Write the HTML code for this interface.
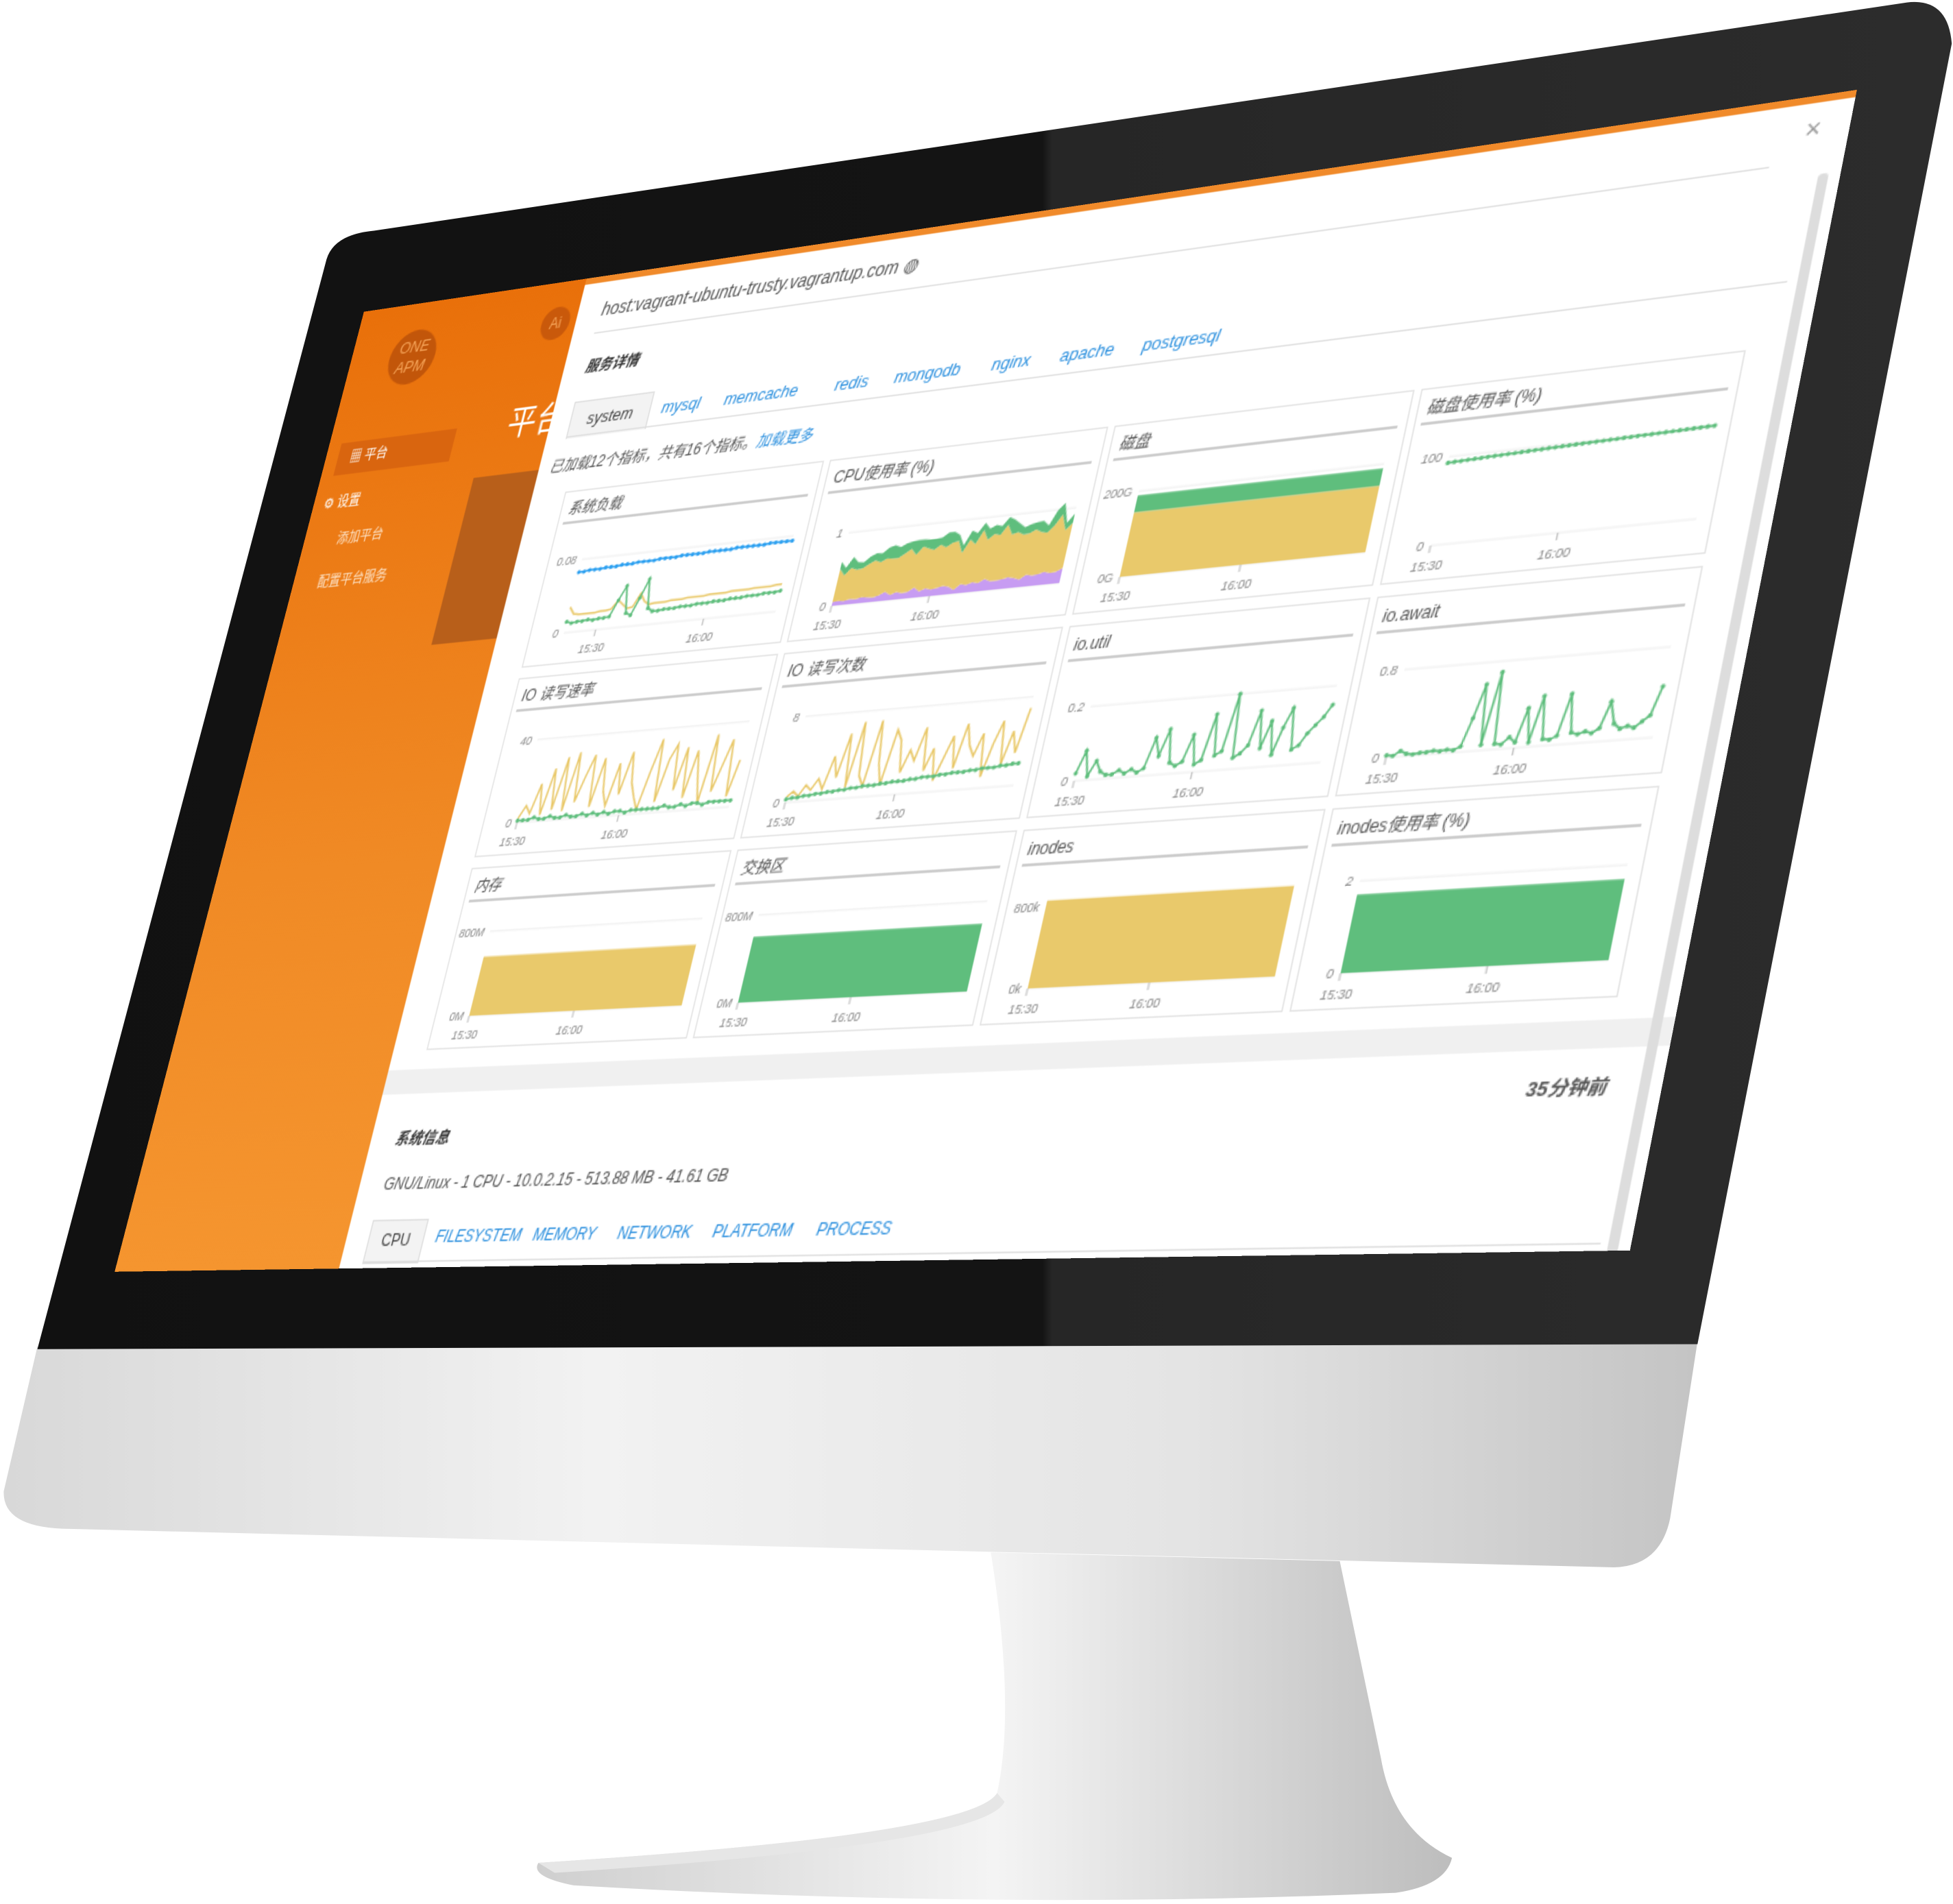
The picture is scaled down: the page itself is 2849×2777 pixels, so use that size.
<!DOCTYPE html>
<html><head><meta charset="utf-8">
<style>
html,body{margin:0;padding:0;background:#fff;overflow:hidden}
#page{width:2849px;height:2777px;position:relative;overflow:hidden;background:#fff}
#stage{position:absolute;left:0;top:0;width:1567px;height:1527px;transform-origin:0 0;transform:scale(1.81812,1.81860)}
#monitor{position:absolute;left:0;top:0}
#screen{position:absolute;left:0;top:0;width:1200px;height:750px;transform-origin:0 0;overflow:hidden;background:#2a2a2a;font-family:"Liberation Sans","Noto Sans CJK SC",sans-serif}
#sidebar{position:absolute;left:0;top:0;width:212px;height:750px;background:linear-gradient(180deg,#e9700a 0%,#f08a25 60%,#f5952f 100%)}
#modal{position:absolute;left:210px;top:0;width:990px;height:750px;background:#fff;border-top:5px solid #f08a2a;box-sizing:border-box}
.t{position:absolute;white-space:nowrap}
.chart{position:absolute;width:226px;height:135px;border:1px solid #e2e2e2;box-sizing:border-box;background:#fff}
.tab{position:absolute;color:#2a8fde;font-size:13px;font-style:italic}
</style></head><body>
<div id="page">
<div id="stage">
<svg id="monitor" width="1567" height="1527" viewBox="0 0 1567 1527">
<defs>
<linearGradient id="chin" x1="0" y1="0" x2="1" y2="0"><stop offset="0" stop-color="#d8d8d8"/><stop offset="0.35" stop-color="#f2f2f2"/><stop offset="0.7" stop-color="#e4e4e4"/><stop offset="1" stop-color="#c4c4c4"/></linearGradient>
<linearGradient id="stand" x1="0" y1="0" x2="1" y2="0"><stop offset="0" stop-color="#cfcfcf"/><stop offset="0.5" stop-color="#f4f4f4"/><stop offset="1" stop-color="#bdbdbd"/></linearGradient>
<linearGradient id="bez" x1="0" y1="0" x2="1" y2="0"><stop offset="0" stop-color="#111"/><stop offset="0.525" stop-color="#141414"/><stop offset="0.53" stop-color="#262626"/><stop offset="1" stop-color="#2c2c2c"/></linearGradient>
</defs>
<path d="M795,1245 L1075,1252 L1108,1410 Q1118,1468 1165,1490 Q1160,1512 1120,1518 Q800,1532 460,1512 Q425,1505 432,1494 Q780,1472 800,1438 Q815,1370 795,1245 Z" fill="url(#stand)"/>
<path d="M432,1494 Q780,1472 800,1438 L806,1445 Q790,1480 445,1502 Z" fill="#e6e6e6"/>
<path d="M30,1080 L1362,1076 L1340,1218 Q1332,1256 1295,1257 L50,1226 Q2,1224 3,1196 Z" fill="url(#chin)"/>
<path d="M262,208 Q268,188 300,185 L1530,2 Q1563,-2 1566,35 L1362,1078 L30,1082 Z" fill="url(#bez)"/>
</svg>
<div id="screen">
 <div id="sidebar">
  <div class="t" style="left:38px;top:22px;width:44px;height:44px;border-radius:50%;background:#c2560a;color:#f6a55a;font-size:13px;text-align:center;line-height:16px;padding-top:6px;box-sizing:border-box;font-style:italic">ONE<br>APM</div>
  <div class="t" style="left:12px;top:108px;width:110px;height:26px;background:#d9650f;color:#fff;font-size:11px;line-height:26px;padding-left:12px;box-sizing:border-box">▦ 平台</div>
  <div class="t" style="left:10px;top:148px;color:#fff;font-size:11px">⚙ 设置</div>
  <div class="t" style="left:32px;top:178px;color:#fde3c8;font-size:11px">添加平台</div>
  <div class="t" style="left:24px;top:212px;color:#fde3c8;font-size:11px">配置平台服务</div>
  <div class="t" style="left:170px;top:90px;color:#fff;font-size:26px">平台</div>
  <div class="t" style="left:178px;top:20px;width:26px;height:26px;border-radius:50%;background:#c9590b;color:#f6a55a;font-size:12px;text-align:center;line-height:26px">Ai</div>
  <div class="t" style="left:150px;top:150px;width:62px;height:130px;background:#b85f1a"></div>
 </div>
 <div id="modal">
  <div class="t" style="left:22px;top:14px;color:#555;font-size:14px;font-style:italic">host:vagrant-ubuntu-trusty.vagrantup.com ◍</div>
  <div class="t" style="left:960px;top:8px;color:#999;font-size:18px">×</div>
  <div class="t" style="left:20px;top:40px;width:920px;height:1px;background:#ddd"></div>
  <div class="t" style="left:20px;top:58px;color:#333;font-size:12px;font-weight:bold;font-style:italic">服务详情</div>
  <div class="t" style="left:18px;top:94px;width:70px;height:28px;background:#f3f3f3;border:1px solid #ddd;border-bottom:none;color:#444;font-size:13px;line-height:28px;text-align:center;font-style:italic">system</div>
  <div class="t" style="left:18px;top:121px;width:950px;height:1px;background:#ddd"></div>
  <div class="tab" style="left:100px;top:100px">mysql</div>
  <div class="tab" style="left:155px;top:100px">memcache</div>
  <div class="tab" style="left:250px;top:100px">redis</div>
  <div class="tab" style="left:300px;top:100px">mongodb</div>
  <div class="tab" style="left:380px;top:100px">nginx</div>
  <div class="tab" style="left:435px;top:100px">apache</div>
  <div class="tab" style="left:500px;top:100px">postgresql</div>
  <div class="t" style="left:10px;top:135px;color:#555;font-size:12px;font-style:italic">已加载12个指标，共有16个指标。<span style="color:#2a8fde">加载更多</span></div>
  <div id="charts"></div>
  <div class="t" style="left:0;top:600px;width:990px;height:18px;background:#f0f0f0"></div>
  <div class="t" style="left:900px;top:632px;color:#555;font-size:13px;font-weight:bold;font-style:italic">35分钟前</div>
  <div class="t" style="left:22px;top:642px;color:#333;font-size:12px;font-weight:bold;font-style:italic">系统信息</div>
  <div class="t" style="left:22px;top:677px;color:#555;font-size:12px;font-style:italic">GNU/Linux - 1 CPU - 10.0.2.15 - 513.88 MB - 41.61 GB</div>
  <div class="t" style="left:20px;top:710px;width:48px;height:30px;background:#f3f3f3;border:1px solid #ddd;color:#444;font-size:12px;line-height:28px;text-align:center">CPU</div>
  <div class="t" style="left:20px;top:740px;width:950px;height:1px;background:#ddd"></div>
  <div class="tab" style="left:80px;top:716px;font-size:12px">FILESYSTEM</div>
  <div class="tab" style="left:165px;top:716px;font-size:12px">MEMORY</div>
  <div class="tab" style="left:237px;top:716px;font-size:12px">NETWORK</div>
  <div class="tab" style="left:316px;top:716px;font-size:12px">PLATFORM</div>
  <div class="tab" style="left:400px;top:716px;font-size:12px">PROCESS</div>
  <div class="t" style="left:975px;top:50px;width:7px;height:700px;background:#ddd;border-radius:3px"></div>
 </div>
</div>
</div>
</div>
<script>
// ---- chart data ----
const loadBlue=[0.066,0.066,0.067,0.067,0.067,0.068,0.068,0.068,0.069,0.069,0.069,0.070,0.070,0.070,0.070,0.071,0.071,0.071,0.071,0.072,0.072,0.072,0.072,0.072,0.073,0.073,0.073,0.073,0.073,0.074,0.074,0.074,0.074,0.074,0.074,0.075,0.075,0.075,0.075,0.075];
const loadGreen=[0.012,0.010,0.011,0.011,0.012,0.011,0.012,0.012,0.013,0.030,0.045,0.015,0.012,0.030,0.050,0.018,0.014,0.014,0.015,0.015,0.015,0.016,0.016,0.016,0.017,0.017,0.017,0.018,0.018,0.018,0.019,0.019,0.019,0.020,0.020,0.020,0.021,0.021,0.021,0.022];
const loadYellow=[0.028,0.020,0.019,0.019,0.019,0.019,0.020,0.020,0.021,0.030,0.025,0.020,0.021,0.035,0.026,0.022,0.023,0.023,0.023,0.024,0.024,0.024,0.025,0.025,0.025,0.025,0.026,0.026,0.026,0.026,0.027,0.027,0.027,0.027,0.028,0.028,0.028,0.028,0.029,0.029];
const cpuPurple=[0.05,0.06,0.05,0.07,0.06,0.08,0.07,0.06,0.08,0.12,0.07,0.1,0.08,0.09,0.14,0.08,0.11,0.09,0.1,0.12,0.1,0.05,0.12,0.1,0.13,0.11,0.16,0.12,0.12,0.13,0.15,0.13,0.1,0.16,0.14,0.15,0.17,0.15,0.16,0.2];
const cpuYellow=[0.45,0.35,0.45,0.4,0.42,0.45,0.5,0.48,0.5,0.45,0.5,0.52,0.6,0.5,0.55,0.58,0.52,0.6,0.55,0.58,0.62,0.5,0.6,0.55,0.7,0.58,0.6,0.62,0.75,0.6,0.6,0.58,0.62,0.6,0.58,0.55,0.62,0.78,0.55,0.6];
const cpuGreen=[0.1,0.1,0.15,0.1,0.08,0.1,0.1,0.12,0.15,0.18,0.15,0.14,0.1,0.2,0.1,0.12,0.15,0.1,0.2,0.15,0.08,0.1,0.12,0.15,0.1,0.15,0.12,0.12,0.1,0.2,0.12,0.1,0.12,0.1,0.15,0.1,0.2,0.15,0.1,0.12];
const diskYellow=[150,150,150,150,150,150,150,150,150,150];
const diskGreen=[40,40,40,40,40,40,40,40,40,40];
const diskPct=[93,93.3,93.6,93.9,94.1,94.4,94.7,95,95.2,95.5,95.7,96,96.2,96.5,96.7,97,97.2,97.4,97.6,97.8,98,98.2,98.4,98.6,98.8,99,99.2,99.4,99.6,99.8,100,100.2,100.4,100.6,100.8,101,101.2,101.4,101.6,101.8];
const ioRateYellow=[2,8,4,18,3,25,5,30,4,32,8,20,30,5,28,12,5,25,10,30,15,8,2,20,35,5,25,32,10,30,6,28,15,3,35,8,20,32,5,22];
const ioRateGreen=[1,1,1,2,1,1,2,1,1,2,1,1,2,1,2,1,2,1,2,2,1,2,2,2,2,2,2,3,2,2,3,2,3,3,2,3,3,3,3,3];
const ioCountYellow=[0.5,1,0.5,1.5,1,2,1,4,2,6,1,7,2,1,7,3,1,6,5,2,4,3,6,2,4,1,3,5,2,6,4,3,5,1,4,6,2,5,3,7];
const ioCountGreen=[0.3,0.4,0.4,0.5,0.5,0.6,0.6,0.7,0.7,0.8,0.8,0.9,0.9,1,1,1,1.1,1.1,1.2,1.2,1.2,1.3,1.3,1.4,1.4,1.4,1.5,1.5,1.6,1.6,1.6,1.7,1.7,1.8,1.8,1.8,1.9,1.9,2,2];
const ioUtil=[0.02,0.08,0.01,0.05,0.02,0.01,0.01,0.02,0.01,0.02,0.01,0.02,0.1,0.05,0.12,0.03,0.02,0.03,0.1,0.02,0.03,0.15,0.04,0.05,0.2,0.03,0.04,0.06,0.15,0.05,0.12,0.03,0.1,0.15,0.04,0.05,0.08,0.1,0.12,0.15];
const ioAwait=[0.02,0.01,0.05,0.02,0.01,0.02,0.02,0.03,0.02,0.03,0.02,0.05,0.3,0.6,0.05,0.7,0.05,0.04,0.1,0.05,0.35,0.04,0.45,0.06,0.05,0.08,0.45,0.1,0.08,0.1,0.08,0.12,0.35,0.15,0.1,0.12,0.1,0.15,0.2,0.45];
const memYellow=[560,560,560,560,560,560,560,560,560,560];
const swapGreen=[600,600,600,600,600,600,600,600,600,600];
const inodesYellow=[860,860,860,860,860,860,860,860,860,860];
const inodesPct=[1.7,1.7,1.7,1.7,1.7,1.7,1.7,1.7,1.7,1.7];
const chartTitles=['系统负载','CPU使用率 (%)','磁盘','磁盘使用率 (%)','IO 读写速率','IO 读写次数','io.util','io.await','内存','交换区','inodes','inodes使用率 (%)'];
const timeLabels=['15:30','16:00'];
const GREEN='#5fbe7d',YEL='#e9c96b',BLUE='#2a9ff0',PUR='#c79cf2';
const specs=[
 {ymax:0.1,yt:[0,0.08],yl:['0','0.08'],xt:[6,26],series:[{d:loadBlue,c:BLUE,t:'line',dots:1},{d:loadYellow,c:YEL,t:'line',dots:0},{d:loadGreen,c:GREEN,t:'line',dots:1}]},
 {ymax:1.3,yt:[0,1],yl:['0','1'],xt:[0,17],series:[{d:cpuPurple,c:PUR,t:'stack'},{d:cpuYellow,c:YEL,t:'stack'},{d:cpuGreen,c:GREEN,t:'stack'}]},
 {ymax:230,yt:[0,200],yl:['0G','200G'],xt:[0,4.5],series:[{d:diskYellow,c:YEL,t:'stack'},{d:diskGreen,c:GREEN,t:'stack'}]},
 {ymax:115,yt:[0,100],yl:['0','100'],xt:[0,19],series:[{d:diskPct,c:GREEN,t:'line',dots:1}]},
 {ymax:45,yt:[0,40],yl:['0','40'],xt:[0,19],series:[{d:ioRateYellow,c:YEL,t:'line'},{d:ioRateGreen,c:GREEN,t:'line',dots:1}]},
 {ymax:9,yt:[0,8],yl:['0','8'],xt:[0,19],series:[{d:ioCountYellow,c:YEL,t:'line'},{d:ioCountGreen,c:GREEN,t:'line',dots:1}]},
 {ymax:0.27,yt:[0,0.2],yl:['0','0.2'],xt:[0,19],series:[{d:ioUtil,c:GREEN,t:'line',dots:1}]},
 {ymax:0.95,yt:[0,0.8],yl:['0','0.8'],xt:[0,19],series:[{d:ioAwait,c:GREEN,t:'line',dots:1}]},
 {ymax:900,yt:[0,800],yl:['0M','800M'],xt:[0,4.5],series:[{d:memYellow,c:YEL,t:'stack'}]},
 {ymax:900,yt:[0,800],yl:['0M','800M'],xt:[0,4.5],series:[{d:swapGreen,c:GREEN,t:'stack'}]},
 {ymax:1000,yt:[0,800],yl:['0k','800k'],xt:[0,4.5],series:[{d:inodesYellow,c:YEL,t:'stack'}]},
 {ymax:2.3,yt:[0,2],yl:['0','2'],xt:[0,5],series:[{d:inodesPct,c:GREEN,t:'stack'}]}
];
const NS='http://www.w3.org/2000/svg';
function mk(tag,attrs,parent){const e=document.createElementNS(NS,tag);for(const k in attrs)e.setAttribute(k,attrs[k]);parent.appendChild(e);return e;}
const grid=document.getElementById('charts');
specs.forEach((s,i)=>{
 const col=i%4,row=Math.floor(i/4);
 const div=document.createElement('div');
 div.className='chart';
 
 
 div.style.left=(30+col*231)+'px';div.style.top=(165+row*143)+'px';
 grid.appendChild(div);
 const svg=mk('svg',{width:224,height:133},div);
 const tt=mk('text',{x:6,y:17,'font-size':12,fill:'#555','font-style':'italic'},svg);tt.textContent=chartTitles[i];
 
 
 mk('line',{x1:4,x2:218,y1:24,y2:24,stroke:'#999','stroke-width':1.2},svg);
 const L=30,R=214,T=40,B=110;
 const n=s.series[0].d.length;
 const X=k=>L+(R-L)*k/(n-1), Y=v=>B-(B-T)*v/s.ymax;
 s.yt.forEach((v,j)=>{
  mk('line',{x1:L,x2:R,y1:Y(v),y2:Y(v),stroke:'#eee'},svg);
  const t=mk('text',{x:L-5,y:Y(v)+3,'font-size':9,fill:'#888','text-anchor':'end','font-style':'italic'},svg);t.textContent=s.yl[j];
  
  
 });
 s.xt.forEach((k,j)=>{
  mk('line',{x1:X(k),x2:X(k),y1:B,y2:B+5,stroke:'#bbb'},svg);
  const t=mk('text',{x:X(k),y:B+17,'font-size':9,fill:'#888','text-anchor':'middle','font-style':'italic'},svg);t.textContent=timeLabels[j];
  
  
 });
 let base=new Array(n).fill(0);
 s.series.forEach(se=>{
  if(se.t==='stack'){
   const top=se.d.map((v,k)=>base[k]+v);
   let p='M'+X(0)+','+Y(top[0]);
   for(let k=1;k<n;k++)p+=' L'+X(k)+','+Y(top[k]);
   for(let k=n-1;k>=0;k--)p+=' L'+X(k)+','+Y(base[k]);
   const a=mk('path',{d:p+'Z',fill:se.c},svg);
   
   
   base=top;
  } else {
   const pts=se.d.map((v,k)=>X(k)+','+Y(v)).join(' ');
   const l=mk('polyline',{points:pts,fill:'none',stroke:se.c,'stroke-width':1.5},svg);
   
   
   if(se.dots)se.d.forEach((v,k)=>{const c=mk('circle',{cx:X(k),cy:Y(v),r:1.6,fill:se.c},svg);
    
    });
  }
 });
});
// perspective mapping of screen onto monitor
function quad(w,h,p){
 const [x0,y0]=p[0],[x1,y1]=p[1],[x2,y2]=p[2],[x3,y3]=p[3];
 const dx1=x1-x2,dx2=x3-x2,dx3=x0-x1+x2-x3,dy1=y1-y2,dy2=y3-y2,dy3=y0-y1+y2-y3;
 const den=dx1*dy2-dx2*dy1;
 const g=(dx3*dy2-dx2*dy3)/den,hh=(dx1*dy3-dx3*dy1)/den;
 const a=x1-x0+g*x1,b=x3-x0+hh*x3,d=y1-y0+g*y1,e=y3-y0+hh*y3;
 return 'matrix3d('+[a/w,d/w,0,g/w, b/h,e/h,0,hh/h, 0,0,1,0, x0,y0,0,1].join(',')+')';
}
document.getElementById('screen').style.transform=quad(1200,750,[[292,250],[1490,72],[1308,1003],[92,1020]]);
</script>
</body></html>
